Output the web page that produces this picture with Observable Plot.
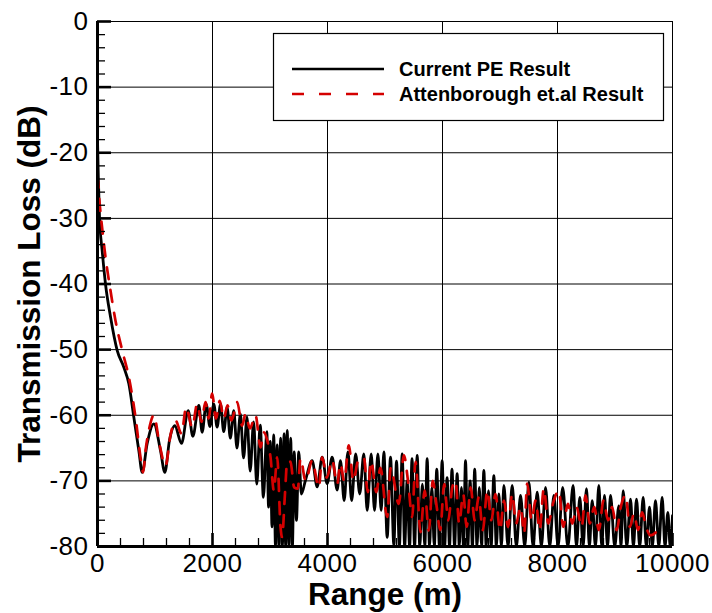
<!DOCTYPE html>
<html><head><meta charset="utf-8">
<script src="https://cdn.jsdelivr.net/npm/d3@7"></script>
<script src="https://cdn.jsdelivr.net/npm/@observablehq/plot@0.6"></script>
<style>
body{margin:0;background:#fff;}
#chart{position:relative;width:712px;height:613px;}
g[aria-label="x-axis tick label"] text, g[aria-label="y-axis tick label"] text {letter-spacing:0.5px;}
</style>
</head><body><div id="chart"></div>
<script>
// ---- data ----
const seriesNames = ["Current PE Result", "Attenborough et.al Result"];

const peRange = [0,15,35,81,139,226,342,458,545,632,719,777,864,980,1096,1171,1252,1345,1461,1577,1658,1763,1820,1890,1955,2023,
 2080,2140,2195,2255,2310,2370,2425,2485,2540,2600,2655,2715,2770,2830,2885,2945,
 2975,3005,3035,3065,3095,3125,3155,3185,3215,3245,3272,3300,3330,3360,3390,3420,3460,3500,3545,
 3617,3733,3820,3907,3994,4081,4168,4226,4290,4355,4420,4490,4560,4632,4690,4760,4818,4876,4934,4980,5038,5096,5154,5200,
 5250,5299,5342,5385,5428,5470,5515,5560,5605,5650,5692,5733,5774,5815,5858,5900,5947,5994,6037,6080,6122,6165,6210,6255,6292,6330,6365,6400,6440,6480,6520,6560,6600,6640,6680,6719,6760,6800,6846,6893,6936,6980,7024,7067,
 7140,7212,7285,7357,7430,7502,7575,7647,7720,7792,7865,7937,8010,8090,
 8180,8272,8330,8388,8445,8504,8555,8603,8660,8719,8770,8817,8870,8922,8995,9067,9105,9142,9205,9270,9320,9374,9430,9490,9545,9600,9650,9704,9762,9820,9870,9919,9960,10000];
const peLoss = [-18,-24,-29.8,-34.9,-40,-45,-50.1,-52.7,-55.2,-60.3,-65.4,-68.7,-64.3,-61.3,-65.4,-68.7,-63.8,-61.6,-64.3,-59.3,-63.2,-58.5,-62.6,-58.3,-61.7,-58.3,
 -61.8,-58.3,-62.5,-58.8,-63.5,-59.3,-65,-59.8,-66.5,-60.3,-68.5,-61,-70.5,-61.5,-72.5,-62.5,
 -74,-64,-77,-63,-80,-64.5,-80,-63.5,-80,-62.8,-80,-62.3,-80,-63.5,-80,-65.6,-76,-65.6,-72,
 -69.9,-66.9,-70.9,-66.4,-70.4,-66.4,-71.4,-66.9,-73,-65.6,-73,-65.9,-72,-65.9,-74.5,-65.9,-74.5,-65.9,-74.5,-65.6,-78.6,-66.4,-79.8,-67,
 -80,-65.9,-80,-70,-80,-66.6,-80,-66.1,-80,-70.5,-80,-66.6,-80,-71,-80,-68.2,-80,-66.9,-80,-69.5,-80,-68.2,-80,-68.9,-80,-71,-80,-66.9,-80,-70,-80,-68.2,-80,-71,-80,-68.4,-80,-71.5,-80,-69.2,-80,-72,-80,-70.7,
 -80,-70.7,-80,-72.2,-80,-70.2,-80,-71.7,-80,-71,-80,-72.2,-80,-71,
 -80,-70.7,-80,-72.5,-80,-71.2,-80,-73,-80,-70.7,-80,-72.2,-80,-72.2,-80,-73.8,-80,-71.5,-80,-72.8,-80,-72.8,-80,-72.5,-80,-74,-80,-73,-80,-72.5,-80,-74.8,-80,-75.3];

const attRange = [0,40,81,139,226,313,429,545,661,748,794,835,900,980,1080,1183,1270,1357,1461,1542,1647,1734,1809,1878,1935,1994,2060,2127,2197,2260,2330,2429,2516,2574,2650,2748,2835,2893,2951,3009,3067,3125,3183,3210,3260,3300,3357,3420,3484,3530,3620,3733,3849,3907,3990,4081,4168,4226,4290,4371,4450,4530,4632,4700,4760,4850,4920,5038,5100,5240,5328,5400,5473,5530,5617,5690,5762,5830,5900,5960,
 6030,6100,6170,6226,6290,6360,6420,6490,6560,6630,6700,6780,6850,6922,7000,7070,7140,7212,7280,7360,7420,7473,7550,7620,7690,7762,7840,7920,8023,8100,8180,8260,8330,8420,8487,8560,8640,8720,8800,8880,8950,9030,9100,9183,9260,9330,9400,9473,9540,9620,9790];
const attLoss = [-23.5,-28,-31.5,-35.9,-41,-45.6,-50.1,-54.2,-60.3,-66.4,-68.7,-65.4,-62,-60,-64.5,-67.7,-63,-60.8,-62.8,-58.8,-61.8,-58.3,-61,-58,-60.5,-56.7,-60.5,-57.8,-60.5,-58.5,-60.8,-58,-61.6,-59.8,-62,-60,-64.9,-62.6,-63.8,-66.4,-71.5,-66.4,-77,-78.6,-72,-67,-67.1,-71,-71.2,-66.6,-70,-66.9,-71,-66.4,-69.5,-66.8,-70.5,-67.4,-70,-64.6,-70,-67,-66.4,-71.7,-67,-71.7,-68,-75.5,-68,-73.5,-66.1,-70,-75.5,-67.1,-77.8,-71.5,-77.6,-70,-74,-77.5,
 -70.5,-76,-71,-70,-76.5,-72,-77,-71,-76,-72.5,-77.5,-71.5,-76,-72,-77.5,-73,-77,-72,-76.5,-74,-78,-70.4,-76,-73,-77.5,-71.2,-76.5,-73.5,-71.5,-77,-73.5,-76.5,-74,-77,-72.2,-76.5,-74,-77.5,-73,-76,-74,-77.5,-74,-72.2,-77,-75,-77.5,-74.8,-77,-78.3,-77];

const xTicks = [0,2000,4000,6000,8000,10000];
const xMinorTicks = [400,800,1200,1600,2400,2800,3200,3600,4400,4800,5200,5600,6400,6800,7200,7600,8400,8800,9200,9600];
const yTicks = [0,-10,-20,-30,-40,-50,-60,-70,-80];
const yMinorTicks = [-2,-4,-6,-8,-12,-14,-16,-18,-22,-24,-26,-28,-32,-34,-36,-38,-42,-44,-46,-48,-52,-54,-56,-58,-62,-64,-66,-68,-72,-74,-76,-78];
const xTitle = "Range (m)";
const yTitle = "Transmission Loss (dB)";

// ---- chart ----
const pe = peRange.map((x, i) => ({x, y: peLoss[i]}));
const att = attRange.map((x, i) => ({x, y: attLoss[i]}));
const font = "'Liberation Sans', Arial, Helvetica, sans-serif";
const red = "#d40000";

const chart = Plot.plot({
  width: 712, height: 613,
  marginLeft: 97, marginRight: 40, marginTop: 21, marginBottom: 67,
  style: {fontFamily: font, background: "white", color: "black", overflow: "visible"},
  x: {domain: [0, 10000], label: null},
  y: {domain: [-80, 0], label: null},
  marks: [
    Plot.gridX(xTicks, {stroke: "black", strokeOpacity: 1, strokeWidth: 1}),
    Plot.gridY(yTicks, {stroke: "black", strokeOpacity: 1, strokeWidth: 1}),
    Plot.line(pe, {x: "x", y: "y", stroke: "black", strokeWidth: 2.8, curve: "monotone-x", clip: true}),
    Plot.line(att, {x: "x", y: "y", stroke: red, strokeWidth: 2.7, strokeDasharray: "12,11", curve: "monotone-x", clip: true}),
    Plot.axisX(xMinorTicks, {tickSize: -8, tickFormat: () => "", strokeWidth: 1.3, label: null}),
    Plot.axisX(xTicks, {tickSize: -13, tickFormat: () => "", strokeWidth: 2.6, label: null}),
    Plot.axisX(xTicks, {tickSize: 0, tickPadding: 7, fontSize: 26, tickFormat: d => String(d), label: null}),
    Plot.axisY(yMinorTicks, {tickSize: -8, tickFormat: () => "", strokeWidth: 1.3, label: null}),
    Plot.axisY(yTicks, {tickSize: -14, tickFormat: () => "", strokeWidth: 2.6, label: null}),
    Plot.axisY(yTicks, {tickSize: 0, tickPadding: 9, fontSize: 26, tickFormat: d => String(d), label: null}),
    Plot.ruleX([0], {stroke: "black", strokeWidth: 3}),
    Plot.ruleY([-80], {stroke: "black", strokeWidth: 3}),
    Plot.text([xTitle], {text: d => d, frameAnchor: "bottom", textAnchor: "middle", lineAnchor: "middle", dy: 48, fontSize: 31.5, fontWeight: "bold"}),
    Plot.text([yTitle], {text: d => d, frameAnchor: "left", textAnchor: "middle", lineAnchor: "middle", dx: -68, rotate: -90, fontSize: 31.5, fontWeight: "bold"})
  ]
});
document.getElementById("chart").appendChild(chart);

// ---- legend ----
const svg = d3.select(chart);
const lg = svg.append("g").attr("font-family", font).attr("text-anchor", "start");
lg.append("rect").attr("x", 273.5).attr("y", 33.5).attr("width", 390).attr("height", 87)
  .attr("fill", "white").attr("stroke", "black").attr("stroke-width", 1.2);
const rows = [
  {name: seriesNames[0], color: "black", dash: "none", y: 69},
  {name: seriesNames[1], color: red, dash: "12,15", y: 94}
];
rows.forEach(r => {
  lg.append("line").attr("x1", 292).attr("x2", 384).attr("y1", r.y).attr("y2", r.y)
    .attr("stroke", r.color).attr("stroke-width", 2.7).attr("stroke-dasharray", r.dash);
  lg.append("text").attr("x", 399).attr("y", r.y + 7).attr("font-size", 20).attr("font-weight", "bold")
    .attr("text-anchor", "start").attr("fill", "black").text(r.name);
});
</script>
</body></html>
